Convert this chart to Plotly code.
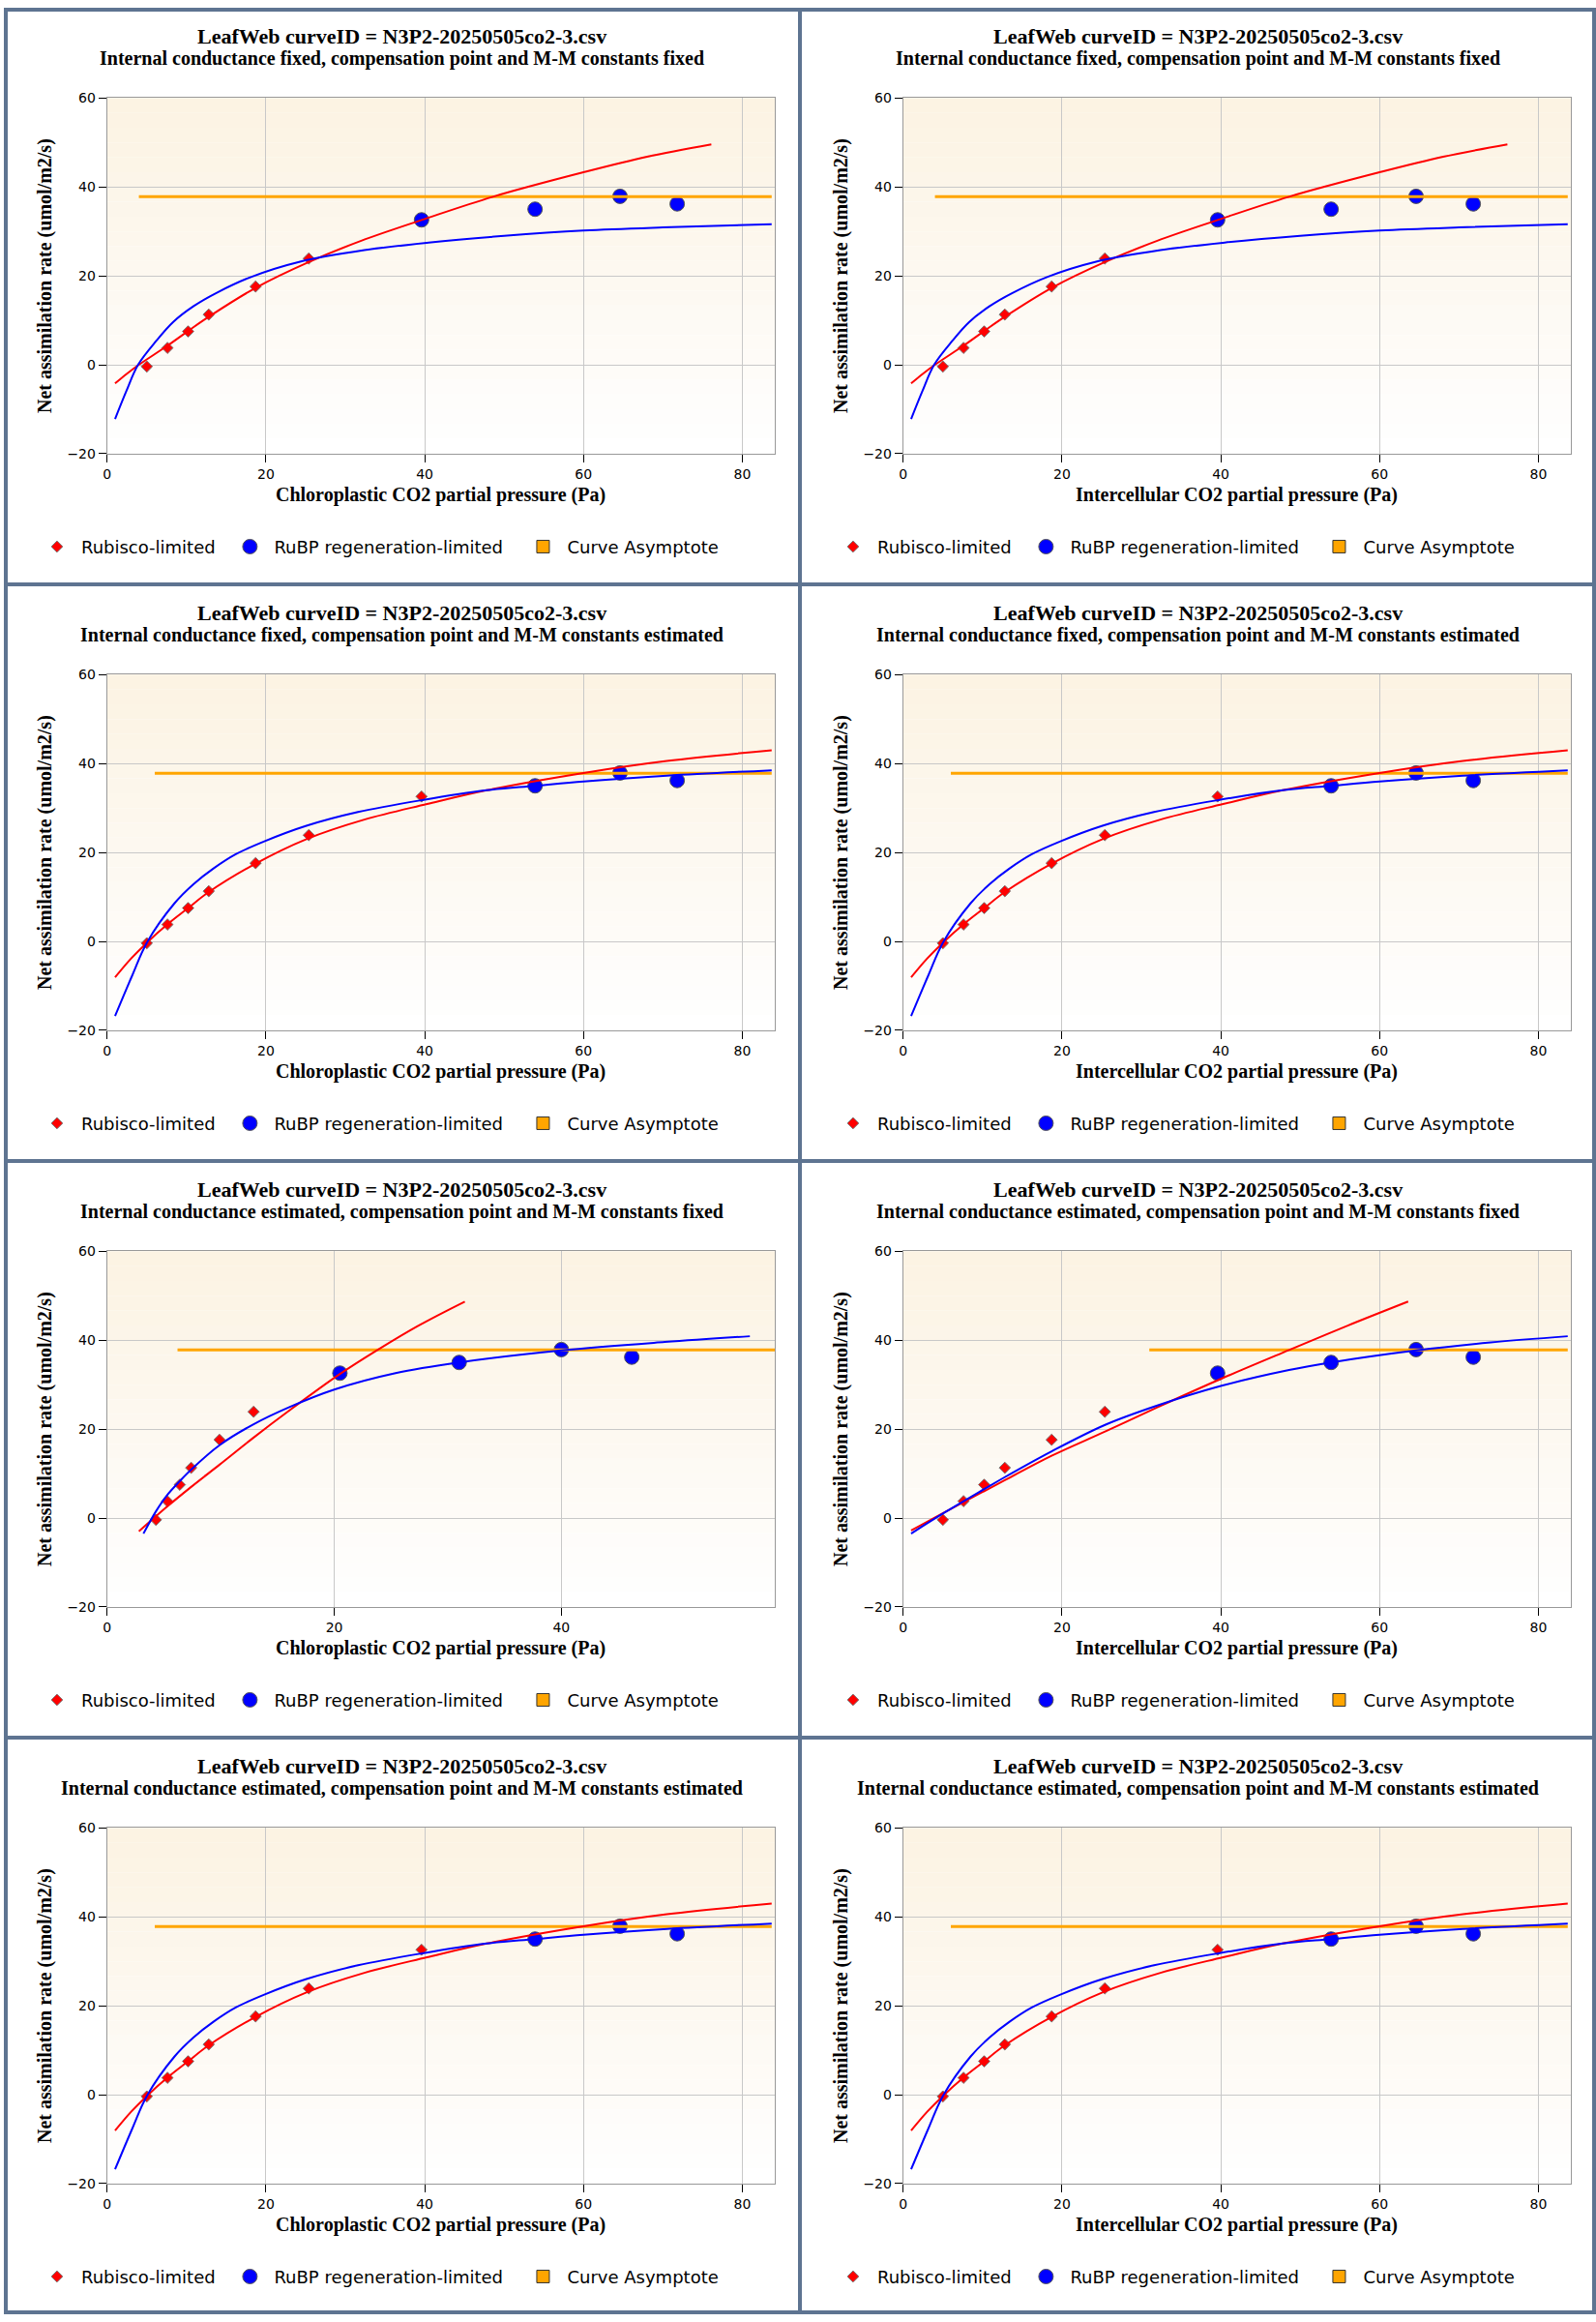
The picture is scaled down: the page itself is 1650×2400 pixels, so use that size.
import plotly.graph_objects as go

# measured points of the A/Ci curve (same leaf in every panel)
A_obs = [-0.4, 3.8, 7.5, 11.3, 17.6, 23.9, 32.6, 35.0, 37.9, 36.2]
Ci_obs = [5.0, 7.6, 10.2, 12.8, 18.7, 25.4, 39.6, 53.9, 64.6, 71.8]
# chloroplastic pressure once internal conductance is estimated
Cc_obs_gm_est = [4.3, 5.3, 6.4, 7.4, 9.9, 12.9, 20.5, 31.0, 40.0, 46.2]
asymptote_A = 37.8

# gm fixed, compensation point and M-M constants fixed
rub_x_ff = [1.0, 2.5, 4.0, 7.6, 10.2, 12.8, 18.7, 25.4, 32.0, 40.0, 48.6, 60.0, 68.0, 76.1]
rub_y_ff = [-4.2, -2.0, 0.0, 4.3, 7.6, 10.8, 17.3, 23.1, 27.9, 32.8, 37.8, 43.3, 46.8, 49.6]
rubp_x_ff = [1.0, 2.4, 3.9, 6.2, 8.3, 10.9, 13.7, 18.2, 24.3, 32.4, 40.5, 50.0, 60.0, 70.0, 83.7]
rubp_y_ff = [-12.2, -6.0, 0.0, 5.4, 9.6, 13.2, 16.1, 19.8, 23.2, 25.8, 27.5, 29.0, 30.2, 30.9, 31.6]
asym_x_ff = [4.0, 83.7]

# gm fixed, compensation point and M-M constants estimated
rub_x_fe = [1.0, 3.0, 5.0, 7.5, 10.2, 12.8, 18.6, 25.1, 32.4, 40.3, 47.8, 60.0, 70.5, 83.7]
rub_y_fe = [-8.1, -3.9, -0.3, 3.7, 7.5, 11.1, 17.4, 23.0, 27.4, 30.9, 34.0, 37.9, 40.6, 43.0]
rubp_x_fe = [1.0, 3.2, 5.0, 8.5, 10.9, 13.4, 16.2, 19.8, 25.1, 31.6, 39.7, 47.8, 53.9, 60.0, 70.5, 83.7]
rubp_y_fe = [-16.8, -7.5, -0.3, 8.6, 12.9, 16.4, 19.6, 22.5, 26.0, 29.1, 31.8, 34.0, 35.0, 36.0, 37.3, 38.5]
asym_x_fe = [6.0, 83.7]

# gm estimated, compensation point and M-M constants fixed (chloroplastic)
rub_x_ef_cc = [2.8, 5.3, 7.4, 9.9, 12.9, 16.0, 20.5, 23.8, 27.5, 31.5]
rub_y_ef_cc = [-3.0, 2.6, 7.0, 12.0, 18.1, 24.1, 32.4, 37.8, 43.4, 48.7]
rubp_x_ef_cc = [3.2, 4.3, 5.3, 6.4, 7.4, 9.9, 12.9, 16.0, 20.0, 25.4, 31.0, 40.0, 49.1, 56.6]
rubp_y_ef_cc = [-3.5, 1.5, 5.2, 8.3, 10.9, 16.4, 21.1, 24.9, 28.9, 32.6, 35.0, 37.7, 39.6, 40.9]
asym_x_ef_cc = [6.2, 58.8]

# gm estimated, compensation point and M-M constants fixed (intercellular)
rub_x_ef_ci = [1.0, 5.1, 12.8, 18.7, 25.5, 32.0, 40.0, 48.6, 56.0, 63.6]
rub_y_ef_ci = [-2.8, 1.2, 8.5, 14.0, 19.5, 24.9, 31.3, 37.8, 43.3, 48.7]
rubp_x_ef_ci = [1.0, 5.1, 10.3, 12.8, 18.7, 25.5, 32.0, 40.0, 48.6, 53.9, 64.6, 74.0, 83.7]
rubp_y_ef_ci = [-3.5, 1.1, 6.6, 9.2, 15.0, 21.0, 25.3, 29.7, 33.3, 35.0, 37.7, 39.5, 40.9]
asym_x_ef_ci = [31.0, 83.7]

# gm estimated, compensation point and M-M constants estimated
rub_x_ee, rub_y_ee = rub_x_fe, rub_y_fe
rubp_x_ee, rubp_y_ee = rubp_x_fe, rubp_y_fe
asym_x_ee = asym_x_fe

title_top = "LeafWeb curveID = N3P2-20250505co2-3.csv"
x_labels = ["Chloroplastic CO2 partial pressure (Pa)", "Intercellular CO2 partial pressure (Pa)"]
y_label = "Net assimilation rate (umol/m2/s)"
legend_names = ["Rubisco-limited", "RuBP regeneration-limited", "Curve Asymptote"]

rows = [
    ("Internal conductance fixed, compensation point and M-M constants fixed", 6,
     [(Ci_obs, rub_x_ff, rub_y_ff, rubp_x_ff, rubp_y_ff, asym_x_ff, 84.1),
      (Ci_obs, rub_x_ff, rub_y_ff, rubp_x_ff, rubp_y_ff, asym_x_ff, 84.1)]),
    ("Internal conductance fixed, compensation point and M-M constants estimated", 7,
     [(Ci_obs, rub_x_fe, rub_y_fe, rubp_x_fe, rubp_y_fe, asym_x_fe, 84.1),
      (Ci_obs, rub_x_fe, rub_y_fe, rubp_x_fe, rubp_y_fe, asym_x_fe, 84.1)]),
    ("Internal conductance estimated, compensation point and M-M constants fixed", 6,
     [(Cc_obs_gm_est, rub_x_ef_cc, rub_y_ef_cc, rubp_x_ef_cc, rubp_y_ef_cc, asym_x_ef_cc, 58.8),
      (Ci_obs, rub_x_ef_ci, rub_y_ef_ci, rubp_x_ef_ci, rubp_y_ef_ci, asym_x_ef_ci, 84.1)]),
    ("Internal conductance estimated, compensation point and M-M constants estimated", 7,
     [(Ci_obs, rub_x_ee, rub_y_ee, rubp_x_ee, rubp_y_ee, asym_x_ee, 84.1),
      (Ci_obs, rub_x_ee, rub_y_ee, rubp_x_ee, rubp_y_ee, asym_x_ee, 84.1)]),
]

W, H = 1650, 2400
PW, PH = 825, 600
serif = "Liberation Serif"
sans = "DejaVu Sans"
# non-breaking spaces widen the gap between legend entries
pads = ["\u00a0", "\u00a0" * 2, ""]

fig = go.Figure()
layout = {}
annotations = []
shapes = []

n = 0
for r, (subtitle, n_rub, cols) in enumerate(rows):
    for c, (x_obs, rx, ry, bx, by, ax, xmax) in enumerate(cols):
        n += 1
        sfx = "" if n == 1 else str(n)
        xa, ya, leg = "x" + sfx, "y" + sfx, "legend" + sfx
        ox, oy = PW * c, PH * r

        fig.add_trace(go.Scatter(
            x=x_obs[:n_rub], y=A_obs[:n_rub], mode="markers",
            marker=dict(symbol="diamond", size=9, color="red", line=dict(color="#777", width=1)),
            name=legend_names[0] + pads[0], xaxis=xa, yaxis=ya, legend=leg))
        fig.add_trace(go.Scatter(
            x=x_obs[n_rub:], y=A_obs[n_rub:], mode="markers",
            marker=dict(symbol="circle", size=15, color="blue", line=dict(color="#555", width=1)),
            name=legend_names[1] + pads[1], xaxis=xa, yaxis=ya, legend=leg))
        fig.add_trace(go.Scatter(
            x=[None], y=[None], mode="markers",
            marker=dict(symbol="square", size=13, color="orange", line=dict(color="#333", width=1)),
            name=legend_names[2] + pads[2], xaxis=xa, yaxis=ya, legend=leg))
        fig.add_trace(go.Scatter(
            x=ax, y=[asymptote_A] * len(ax), mode="lines",
            line=dict(color="orange", width=3), showlegend=False, xaxis=xa, yaxis=ya))
        fig.add_trace(go.Scatter(
            x=rx, y=ry, mode="lines", line=dict(color="red", width=2, shape="spline"),
            showlegend=False, xaxis=xa, yaxis=ya))
        fig.add_trace(go.Scatter(
            x=bx, y=by, mode="lines", line=dict(color="blue", width=2, shape="spline"),
            showlegend=False, xaxis=xa, yaxis=ya))

        axis_style = dict(
            showline=True, linecolor="#999", mirror=True, ticks="outside", ticklen=8,
            tickcolor="black", gridcolor="#c8c8c8", zeroline=False,
            tickfont=dict(family=sans, size=14, color="black"))
        layout["xaxis" + sfx] = dict(
            axis_style, anchor=ya, range=[0, xmax], dtick=20,
            domain=[(ox + 107) / W, (ox + 799) / W])
        layout["yaxis" + sfx] = dict(
            axis_style, anchor=xa, range=[-20, 60], dtick=20,
            domain=[1 - (oy + 464) / H, 1 - (oy + 94) / H])
        layout[leg] = dict(
            orientation="h", x=(ox + 30) / W, xanchor="left",
            y=1 - (oy + 561) / H, yanchor="middle", bgcolor="rgba(0,0,0,0)",
            itemwidth=40, font=dict(family=sans, size=18, color="black"))

        # titles and axis labels
        annotations += [
            dict(text="<b>%s</b>" % title_top, x=(ox + 412) / W, y=1 - (oy + 30) / H,
                 font=dict(size=22)),
            dict(text="<b>%s</b>" % subtitle, x=(ox + 412) / W, y=1 - (oy + 53) / H),
            dict(text="<b>%s</b>" % x_labels[c], x=(ox + 453) / W, y=1 - (oy + 507) / H),
            dict(text="<b>%s</b>" % y_label, x=(ox + 42) / W, y=1 - (oy + 279) / H,
                 textangle=-90),
        ]

        # cream-to-white gradient behind the plot area
        bands = 24
        for b in range(bands):
            t = b / (bands - 1)
            col = "rgb(%d,%d,%d)" % (252 + 3 * t, 243 + 12 * t, 227 + 28 * t)
            shapes.append(dict(
                type="rect", xref=xa + " domain", yref=ya + " domain",
                x0=0, x1=1, y0=1 - (b + 1) / bands, y1=1 - b / bands,
                fillcolor=col, line=dict(width=0), layer="below"))

for a in annotations:
    size = a.get("font", {}).get("size", 20)
    a.update(xref="paper", yref="paper", showarrow=False, xanchor="center",
             yanchor="middle", font=dict(family=serif, size=size, color="black"))

# panel frames
frame = dict(type="line", xref="paper", yref="paper", line=dict(color="#5e7491", width=4))
for xp in [2, 825, 1648]:
    shapes.append(dict(frame, x0=xp / W, x1=xp / W, y0=0, y1=1))
for yp in [2, 600, 1200, 1800, 2398]:
    shapes.append(dict(frame, x0=0, x1=1, y0=1 - yp / H, y1=1 - yp / H))

fig.update_layout(
    layout,
    annotations=annotations,
    shapes=shapes,
    width=W, height=H,
    margin=dict(l=0, r=0, t=0, b=0),
    paper_bgcolor="white",
    plot_bgcolor="white",
)

fig.write_html(
    "out.html",
    config={"displayModeBar": False},
    post_script="document.body.style.margin='0';document.body.style.overflow='hidden';",
)
